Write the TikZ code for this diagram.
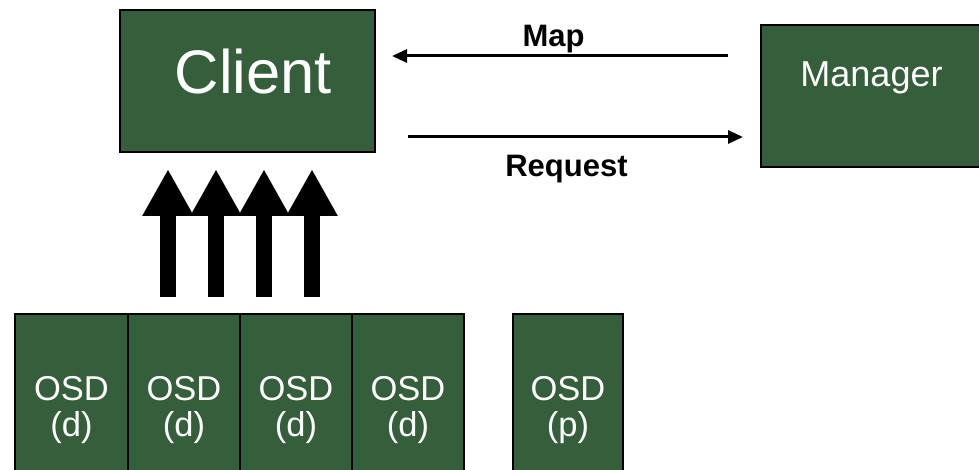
\documentclass[tikz,border=0pt]{standalone}
\usepackage{fontspec}
\setmainfont{Liberation Sans}
\usetikzlibrary{arrows.meta}
\definecolor{boxgreen}{RGB}{53,94,59}
\begin{document}
\begin{tikzpicture}[x=1pt,y=-1pt,
  box/.style={draw=black, line width=2pt, fill=boxgreen, inner sep=0pt, shape=rectangle},
  lbl/.style={text=white, inner sep=0pt, anchor=base},
  osdfont/.style={font=\fontsize{34.5}{38}\selectfont},
  msg/.style={line width=3pt, -{Triangle[length=15pt,width=13pt]}},
  msglbl/.style={inner sep=0pt, anchor=base, font=\fontsize{31}{36}\selectfont\bfseries},
  fat/.style={line width=16pt, -{Triangle[length=47pt,width=48pt]}}]
\useasboundingbox (0,0) rectangle (979,470);
\clip (0,0) rectangle (979,470);

% client and manager
\node[box, minimum width=255pt, minimum height=142pt] (client) at (247.5,81) {};
\node[lbl, font=\fontsize{61.5}{70}\selectfont] (clientlbl) at (253.5,94) {Client};
\node[box, minimum width=224pt, minimum height=142pt] (mgr) at (873,96) {};
\node[lbl, font=\fontsize{36}{42}\selectfont] (mgrlbl) at (871.5,87) {Manager};

% map / request messages
\coordinate (mapy) at (0,56);
\coordinate (reqy) at (0,137);
\draw[msg, shorten <=32pt, shorten >=16pt] (mgr.west |- mapy) -- (client.east |- mapy);
\draw[msg, shorten <=32pt, shorten >=17pt] (client.east |- reqy) -- (mgr.west |- reqy);
\node[msglbl] (maplbl) at (553.5,47) {Map};
\node[msglbl] (reqlbl) at (566.5,177) {Request};

% storage devices
\foreach \i/\cx/\w in {1/71.5/113, 2/184/112, 3/296/112, 4/408/112} {
  \node[box, minimum width=\w pt, minimum height=206pt] (osd\i) at (\cx,417) {};
  \node[lbl, osdfont] (osdname\i) at (\cx,400) {OSD};
  \node[lbl, osdfont] (osdkind\i) at (\cx,436) {(d)};
}
\node[box, minimum width=110pt, minimum height=206pt] (osdp) at (568,417) {};
\node[lbl, osdfont] (osdpname) at (568,400) {OSD};
\node[lbl, osdfont] (osdpkind) at (568,436) {(p)};

% data flow from the storage devices up to the client
\foreach \i/\x in {1/168, 2/216, 3/264, 4/312} {
  \coordinate (src\i) at (\x,297);
  \coordinate (dst\i) at (\x,169);
  \draw[fat] (src\i) -- (dst\i);
}
\end{tikzpicture}
\end{document}
